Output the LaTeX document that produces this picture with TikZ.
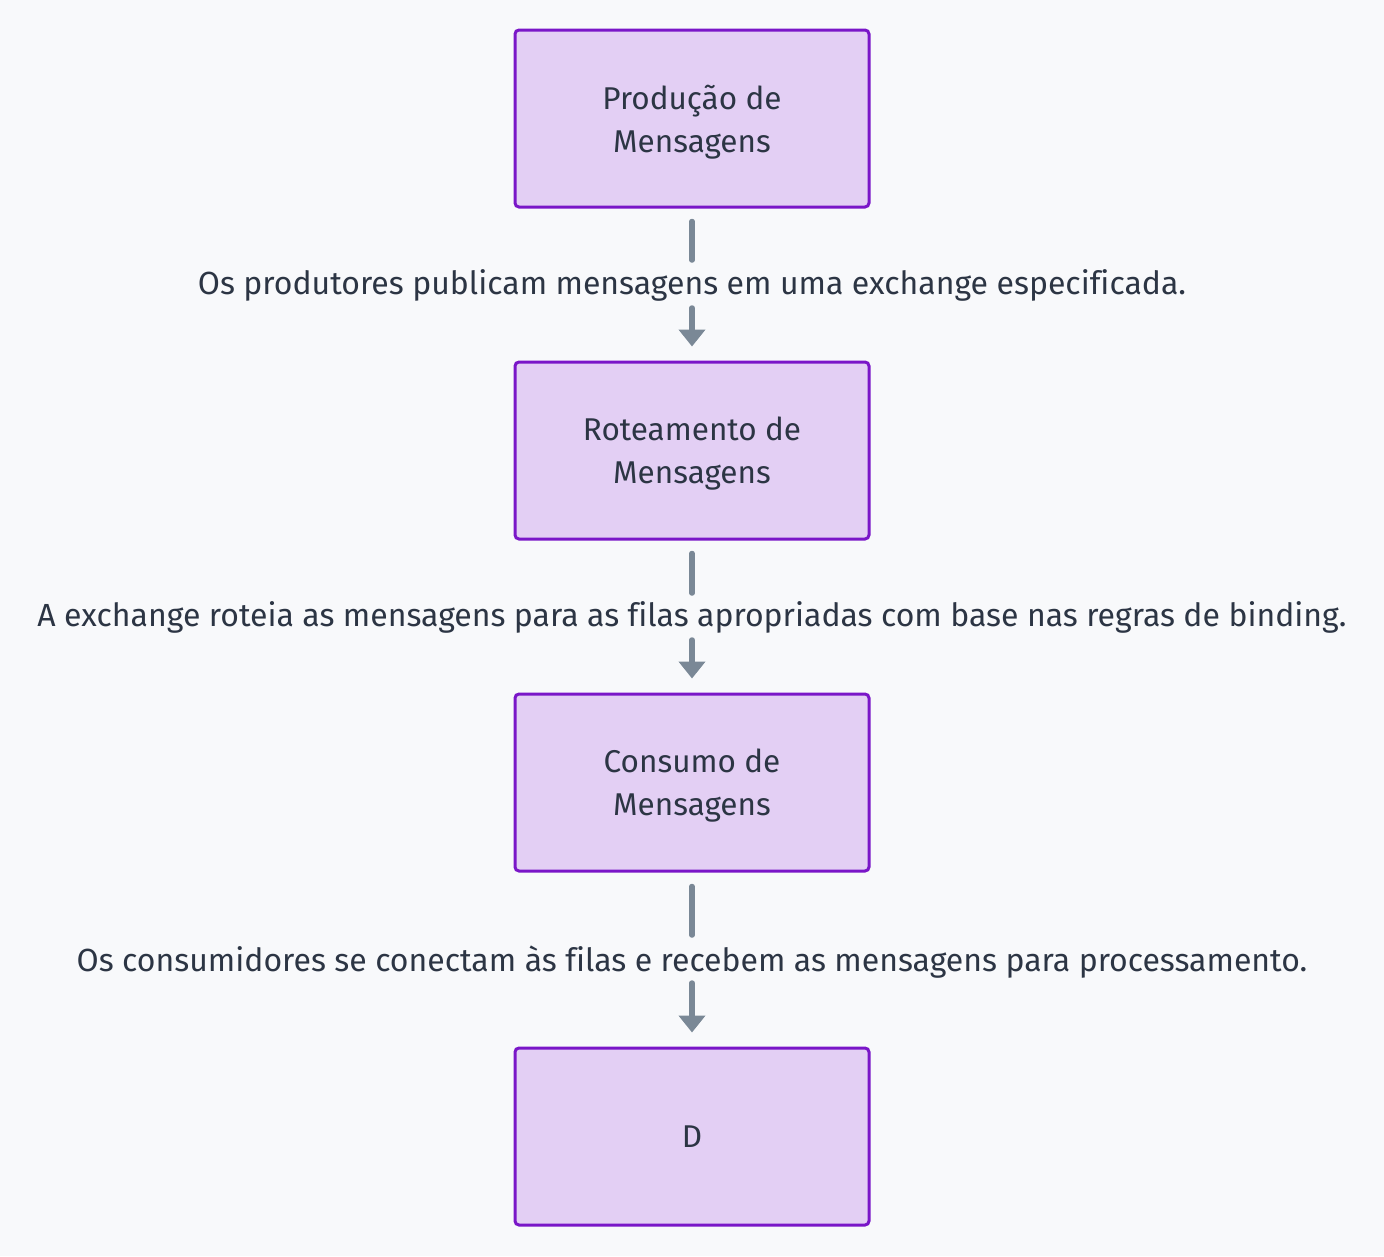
\documentclass[tikz,border=0pt]{standalone}
\usepackage{fontspec}
\setmainfont[Ligatures=NoCommon]{Fira Sans}
\usetikzlibrary{arrows.meta}
\definecolor{bgc}{HTML}{F8F9FB}
\definecolor{boxfill}{HTML}{E3CFF4}
\definecolor{boxline}{HTML}{7A16C8}
\definecolor{arrowc}{HTML}{7A8896}
\definecolor{txt}{HTML}{2C3544}
\begin{document}
\begin{tikzpicture}[x=1pt,y=1pt,
  stagebox/.style={draw=boxline, fill=boxfill, line width=3pt, rounded corners=4pt,
    minimum width=354pt, minimum height=177pt, align=center, text=txt,
    font=\fontsize{31.5}{43}\selectfont, inner sep=0pt, text depth=-6pt},
  lbl/.style={text=txt, font=\fontsize{32}{36}\selectfont, inner sep=0pt},
  conn/.style={draw=arrowc, line width=5.5pt, line cap=round},
  arr/.style={conn, -{Triangle[width=26pt 0,length=17pt 0]}}
]
\useasboundingbox[fill=bgc] (0,0) rectangle (1384,-1256);
\node[stagebox] (b1) at (692,-118.5) {Produção de\\Mensagens};
\node[stagebox] (b2) at (692,-450.5) {Roteamento de\\Mensagens};
\node[stagebox] (b3) at (692,-782.5) {Consumo de\\Mensagens};
\node[stagebox] (b4) at (692,-1136.5) {D};
\node[lbl] (l1) at (692,-285) {Os produtores publicam mensagens em uma exchange especificada.};
\node[lbl] (l2) at (692,-617) {A exchange roteia as mensagens para as filas apropriadas com base nas regras de binding.};
\node[lbl] (l3) at (692,-962) {Os consumidores se conectam às filas e recebem as mensagens para processamento.};
\draw[conn] ([yshift=-13pt]b1.south) -- ([yshift=25pt]l1.center);
\draw[arr] ([yshift=-23pt]l1.center) -- ([yshift=14pt]b2.north);
\draw[conn] ([yshift=-13pt]b2.south) -- ([yshift=24pt]l2.center);
\draw[arr] ([yshift=-23pt]l2.center) -- ([yshift=14pt]b3.north);
\draw[conn] ([yshift=-14pt]b3.south) -- ([yshift=27pt]l3.center);
\draw[arr] ([yshift=-21pt]l3.center) -- ([yshift=14pt]b4.north);
\end{tikzpicture}
\end{document}
